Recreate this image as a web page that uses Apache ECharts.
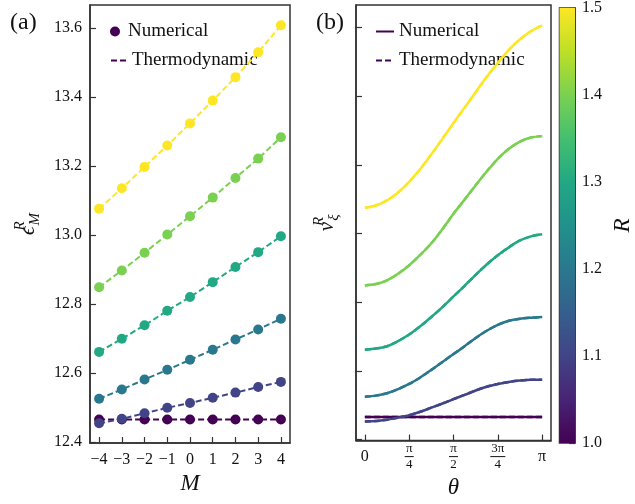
<!DOCTYPE html>
<html>
<head>
<meta charset="utf-8">
<script src="https://cdn.jsdelivr.net/npm/echarts@6/dist/echarts.min.js"></script>
<style>
  html, body { margin: 0; padding: 0; background: #fff; }
  #chart { width: 635px; height: 504px; }
</style>
</head>
<body>
<div id="chart"></div>
<script>
// values
const R_VALUES = [1.0, 1.1, 1.2, 1.3, 1.4, 1.5]
const M_VALUES = [-4, -3, -2, -1, 0, 1, 2, 3, 4]
const THETA_OVER_PI = [0, 0.0625, 0.125, 0.1875, 0.25, 0.3125, 0.375, 0.4375, 0.5,
  0.5625, 0.625, 0.6875, 0.75, 0.8125, 0.875, 0.9375, 1]

// panel (a): energy per M, one array per R
const EPS_R10 = [12.465, 12.465, 12.465, 12.465, 12.465, 12.465, 12.465, 12.465, 12.465]
const EPS_R11 = [12.454, 12.467, 12.483, 12.499, 12.513, 12.528, 12.543, 12.559, 12.574]
const EPS_R12 = [12.525, 12.552, 12.581, 12.609, 12.638, 12.667, 12.697, 12.726, 12.757]
const EPS_R13 = [12.661, 12.699, 12.738, 12.780, 12.820, 12.863, 12.907, 12.950, 12.996]
const EPS_R14 = [12.848, 12.897, 12.948, 13.001, 13.054, 13.108, 13.165, 13.221, 13.283]
const EPS_R15 = [13.076, 13.135, 13.197, 13.259, 13.323, 13.389, 13.457, 13.529, 13.607]

// panel (b): v over theta, one array per R
const V_R10 = [12.466, 12.466, 12.466, 12.466, 12.466, 12.466, 12.466, 12.466, 12.466,
  12.466, 12.466, 12.466, 12.466, 12.466, 12.466, 12.466, 12.466]
const V_R11 = [12.453, 12.454, 12.458, 12.464, 12.471, 12.481, 12.493, 12.505, 12.518,
  12.530, 12.543, 12.554, 12.562, 12.568, 12.572, 12.574, 12.574]
const V_R12 = [12.525, 12.528, 12.535, 12.547, 12.562, 12.581, 12.603, 12.626, 12.649,
  12.672, 12.696, 12.717, 12.734, 12.746, 12.752, 12.755, 12.757]
const V_R13 = [12.662, 12.665, 12.672, 12.687, 12.706, 12.730, 12.757, 12.786, 12.817,
  12.848, 12.880, 12.910, 12.937, 12.960, 12.980, 12.992, 12.998]
const V_R14 = [12.849, 12.853, 12.864, 12.883, 12.908, 12.938, 12.972, 13.013, 13.058,
  13.099, 13.141, 13.181, 13.218, 13.247, 13.268, 13.280, 13.284]
const V_R15 = [13.075, 13.082, 13.097, 13.120, 13.151, 13.188, 13.231, 13.276, 13.322,
  13.367, 13.412, 13.457, 13.497, 13.535, 13.566, 13.590, 13.607]

const EPSILON = [EPS_R10, EPS_R11, EPS_R12, EPS_R13, EPS_R14, EPS_R15]
const V_XI = [V_R10, V_R11, V_R12, V_R13, V_R14, V_R15]

// tick labels
const Y_TICKS = [12.4, 12.6, 12.8, 13.0, 13.2, 13.4, 13.6]
const M_TICKS = [-4, -3, -2, -1, 0, 1, 2, 3, 4]
const THETA_TICKS = [0, 0.25, 0.5, 0.75, 1]
const THETA_LABELS = ['0', 'π/4', 'π/2', '3π/4', 'π']
const CB_TICKS = [1.0, 1.1, 1.2, 1.3, 1.4, 1.5]

// viridis for R = 1.0 ... 1.5
const COLORS = ['#440154', '#414487', '#2a788e', '#22a884', '#7ad151', '#fde725']
const VIRIDIS = ['#440154', '#482475', '#414487', '#355f8d', '#2a788e', '#21918c',
  '#22a884', '#44bf70', '#7ad151', '#bddf26', '#fde725']

const FONT = 'Liberation Serif'
const INK = '#333'
const pair = (xs, ys) => xs.map((x, i) => [x, ys[i]])

const chart = echarts.init(document.getElementById('chart'), null, { renderer: 'canvas' })

const seriesName = (i, base) => (i === 0 ? base : base + '-' + R_VALUES[i])

const series = []
R_VALUES.forEach((r, i) => {
  // panel (a)
  series.push({
    name: seriesName(i, 'Numerical'),
    type: 'scatter',
    xAxisIndex: 0, yAxisIndex: 0,
    data: pair(M_VALUES, EPSILON[i]),
    symbolSize: 10,
    itemStyle: { color: COLORS[i], opacity: 1 },
    z: 2 + i * 2
  })
  series.push({
    name: seriesName(i, 'Thermodynamic'),
    type: 'line',
    xAxisIndex: 0, yAxisIndex: 0,
    data: pair(M_VALUES, EPSILON[i]),
    symbol: 'none',
    lineStyle: { color: COLORS[i], width: 2, type: [6, 3] },
    itemStyle: { color: COLORS[i] },
    z: 3 + i * 2
  })
  // panel (b)
  series.push({
    name: seriesName(i, 'Numerical '),
    type: 'line',
    xAxisIndex: 1, yAxisIndex: 1,
    data: pair(THETA_OVER_PI, V_XI[i]),
    symbol: 'none',
    smooth: 0.3,
    lineStyle: { color: COLORS[i], width: 2.5 },
    itemStyle: { color: COLORS[i] },
    z: 2 + i * 2
  })
  series.push({
    name: seriesName(i, 'Thermodynamic '),
    type: 'line',
    xAxisIndex: 1, yAxisIndex: 1,
    data: pair(THETA_OVER_PI, V_XI[i]),
    symbol: 'none',
    smooth: 0.3,
    lineStyle: { color: COLORS[i], width: 2.5, type: [6, 3] },
    itemStyle: { color: COLORS[i] },
    z: 3 + i * 2
  })
})

// colorbar
series.push({
  name: 'colorbar',
  type: 'bar',
  xAxisIndex: 2, yAxisIndex: 2,
  data: [1.5],
  barWidth: '100%',
  clip: true,
  itemStyle: {
    color: new echarts.graphic.LinearGradient(0, 0, 0, 1,
      VIRIDIS.slice().reverse().map((c, k) => ({ offset: k / (VIRIDIS.length - 1), color: c })))
  },
  z: 1
})

const tickFont = { fontFamily: FONT, fontSize: 16, color: '#111' }
const axisLine = { show: true, onZero: false, lineStyle: { color: INK, width: 1.5 } }
const axisTick = (values) => ({ show: true, inside: true, length: 6, customValues: values, lineStyle: { color: INK, width: 1.2 } })

const fracLabel = (s) => {
  if (!s.includes('/')) return s
  const [num, den] = s.split('/')
  return '{n|' + num + '}\n{' + (num.length > 1 ? 'wbar' : 'bar') + '| }\n{d|' + den + '}'
}

const nameRich = {
  e: { fontFamily: FONT, fontSize: 21, fontStyle: 'italic', color: '#111', lineHeight: 30 },
  sup: { fontFamily: FONT, fontSize: 15, fontStyle: 'italic', color: '#111', verticalAlign: 'top', lineHeight: 15, width: 1 },
  sub: { fontFamily: FONT, fontSize: 15, fontStyle: 'italic', color: '#111', verticalAlign: 'bottom', lineHeight: 15 }
}

const legendText = { fontFamily: FONT, fontSize: 19, color: '#111' }
const hideSymbol = { color: 'rgba(0,0,0,0)', borderWidth: 0 }

const option = {
  animation: false,
  backgroundColor: '#fff',
  grid: [
    { left: 90, top: 5, width: 200, height: 438, show: true, borderColor: INK, borderWidth: 1.5, backgroundColor: 'transparent' },
    { left: 356, top: 5, width: 195, height: 438, show: true, borderColor: INK, borderWidth: 1.5, backgroundColor: 'transparent' },
    { left: 559.5, top: 5, width: 22, height: 438, show: true, borderColor: INK, borderWidth: 1.5, backgroundColor: 'transparent' }
  ],
  xAxis: [
    {
      gridIndex: 0, type: 'value', min: -4.4, max: 4.4,
      axisLine, axisTick: axisTick(M_TICKS), splitLine: { show: false },
      axisLabel: { ...tickFont, margin: 9, customValues: M_TICKS, formatter: (v) => String(v).replace('-', '\u2212') },
      name: 'M', nameLocation: 'middle', nameGap: 29,
      nameTextStyle: { fontFamily: FONT, fontSize: 23, fontStyle: 'italic', color: '#111' }
    },
    {
      gridIndex: 1, type: 'value', min: -0.05, max: 1.05,
      axisLine, axisTick: axisTick(THETA_TICKS), splitLine: { show: false },
      axisLabel: {
        ...tickFont, margin: 16, verticalAlign: 'middle', customValues: THETA_TICKS,
        formatter: (v) => fracLabel(THETA_LABELS[THETA_TICKS.indexOf(v)] || ''),
        rich: {
          n: { fontFamily: FONT, fontSize: 13, color: '#111', lineHeight: 12, align: 'center' },
          d: { fontFamily: FONT, fontSize: 13, color: '#111', lineHeight: 12, align: 'center' },
          bar: { width: 9, height: 1, lineHeight: 4, backgroundColor: '#111', align: 'center' },
          wbar: { width: 15, height: 1, lineHeight: 4, backgroundColor: '#111', align: 'center' }
        }
      },
      name: 'θ', nameLocation: 'middle', nameGap: 33,
      nameTextStyle: { fontFamily: FONT, fontSize: 23, fontStyle: 'italic', color: '#111' }
    },
    { gridIndex: 2, type: 'category', data: ['R'], show: false }
  ],
  yAxis: [
    {
      gridIndex: 0, type: 'value', min: 12.397, max: 13.666,
      axisLine, axisTick: axisTick(Y_TICKS), splitLine: { show: false },
      axisLabel: { ...tickFont, margin: 8, customValues: Y_TICKS, formatter: (v) => v.toFixed(1) },
      name: '{e|ϵ}{sup|R}{sub|M}', nameLocation: 'middle', nameGap: 47,
      nameTextStyle: { rich: nameRich }
    },
    {
      gridIndex: 1, type: 'value', min: 12.397, max: 13.666,
      axisLine, axisTick: axisTick(Y_TICKS), splitLine: { show: false },
      axisLabel: { show: false },
      name: '{e|v}{sup|R}{sub|ξ}', nameLocation: 'middle', nameGap: 14,
      nameTextStyle: { rich: nameRich }
    },
    {
      gridIndex: 2, type: 'value', min: 1, max: 1.5, position: 'right', startValue: 1,
      axisLine: { ...axisLine }, axisTick: axisTick(CB_TICKS), splitLine: { show: false },
      axisLabel: { ...tickFont, margin: 7, customValues: CB_TICKS, formatter: (v) => v.toFixed(1) },
      name: 'R', nameLocation: 'middle', nameGap: 36, nameRotate: 90,
      nameTextStyle: { fontFamily: FONT, fontSize: 23, fontStyle: 'italic', color: '#111' }
    }
  ],
  legend: [
    { data: ['Numerical'], left: 105, top: 17, itemWidth: 16, itemHeight: 10, textStyle: legendText, selectedMode: false },
    { data: ['Thermodynamic'], left: 105, top: 46, itemWidth: 16, itemHeight: 12, itemStyle: hideSymbol, textStyle: legendText, selectedMode: false },
    { data: ['Numerical '], left: 370, top: 17, itemWidth: 18, itemHeight: 12, itemStyle: hideSymbol, textStyle: legendText, selectedMode: false },
    { data: ['Thermodynamic '], left: 370, top: 46, itemWidth: 18, itemHeight: 12, itemStyle: hideSymbol, textStyle: legendText, selectedMode: false }
  ],
  graphic: [
    { type: 'text', left: 10, top: 11, style: { text: '(a)', font: '24px "Liberation Serif"', fill: '#111' } },
    { type: 'text', left: 316, top: 11, style: { text: '(b)', font: '24px "Liberation Serif"', fill: '#111' } }
  ],
  series
}

chart.setOption(option)
window.addEventListener('resize', () => chart.resize())
</script>
</body>
</html>
